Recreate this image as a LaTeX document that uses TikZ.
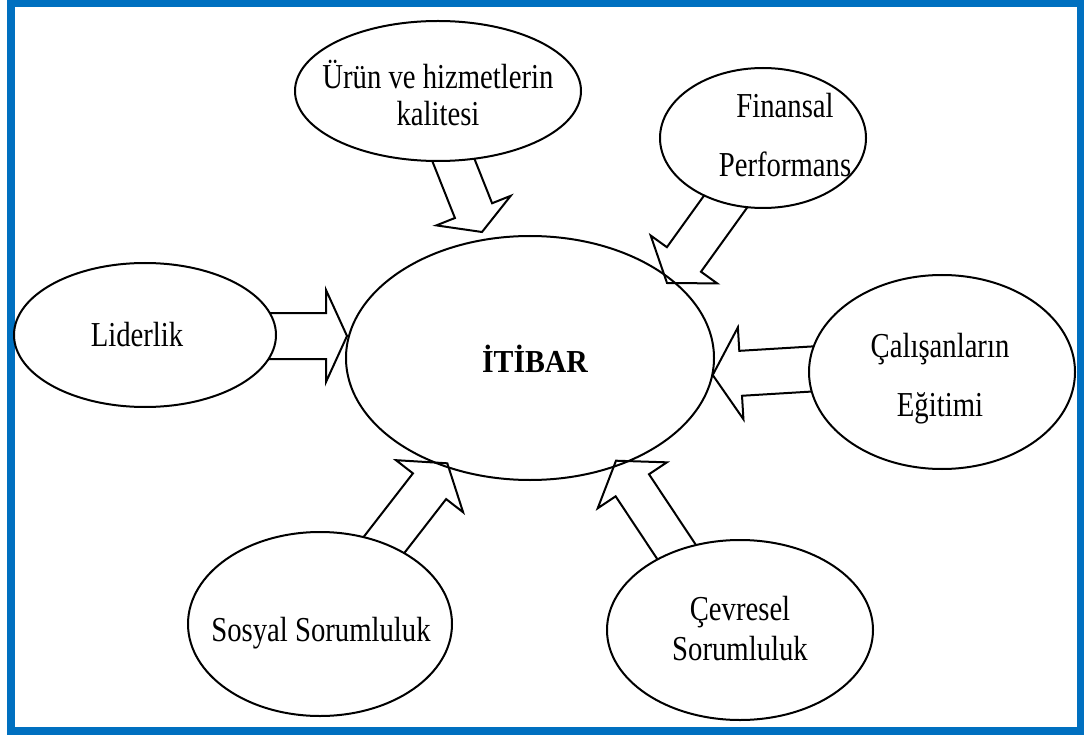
\documentclass[tikz,border=0pt]{standalone}
\usepackage{fontspec}
\usetikzlibrary{calc,shapes.geometric}
\newfontfamily\lblfont{Liberation Serif}[FakeStretch=0.82]
\newfontfamily\titlefont{Liberation Serif}[FakeStretch=0.93]
\definecolor{frameblue}{HTML}{0070C0}

\tikzset{
  bubble/.style={draw, ellipse, line width=2pt, fill=white, inner sep=0pt},
  core/.style={draw, ellipse, line width=2pt, inner sep=0pt},
  blockarr/.style={draw, line width=2pt, line join=miter},
  lbl/.style={font=\lblfont\fontsize{35pt}{40pt}\selectfont, inner sep=0pt, anchor=base},
  titlelbl/.style={font=\titlefont\bfseries\fontsize{32pt}{38pt}\selectfont, inner sep=0pt, anchor=base},
}

% hollow block arrow: start, tip, shaft half width, head half width, head length
\newcommand\blockarrow[5]{%
  \coordinate (ba-h) at ($(#2)!#5!(#1)$);
  \draw[blockarr] ($(#1)!#3!90:(#2)$) -- ($(ba-h)!#3!90:(#2)$)
    -- ($(ba-h)!#4!90:(#2)$) -- (#2) -- ($(ba-h)!#4!-90:(#2)$)
    -- ($(ba-h)!#3!-90:(#2)$) -- ($(#1)!#3!-90:(#2)$) -- cycle;}

\begin{document}
\begin{tikzpicture}[x=1pt, y=-1pt]
  \useasboundingbox (0,0) rectangle (1084,735);
  \draw[frameblue, line width=8pt] (11,3.5) rectangle (1080.5,731);

  % arrow end points
  \coordinate (q-s) at (449.3,149.7);  \coordinate (q-t) at (482,232);
  \coordinate (f-s) at (733.3,190.9);  \coordinate (f-t) at (667,283);
  \coordinate (l-s) at (255,336);      \coordinate (l-t) at (347,336);
  \coordinate (t-s) at (825,368.2);    \coordinate (t-t) at (712.7,375);
  \coordinate (s-s) at (377.2,553.7);  \coordinate (s-t) at (447.3,463.3);
  \coordinate (e-s) at (681.3,559.1);  \coordinate (e-t) at (616,460.7);

  \blockarrow{q-s}{q-t}{20pt}{40pt}{23pt}
  \blockarrow{f-s}{f-t}{21pt}{41pt}{29pt}
  \blockarrow{l-s}{l-t}{23pt}{46pt}{21pt}
  \blockarrow{t-s}{t-t}{22.5pt}{46pt}{28pt}
  \blockarrow{s-s}{s-t}{21pt}{42.5pt}{29pt}
  \blockarrow{e-s}{e-t}{20pt}{41.5pt}{29.5pt}

  % surrounding factors
  \node[bubble, minimum width=286pt, minimum height=140pt] (quality) at (438,91) {};
  \node[bubble, minimum width=206pt, minimum height=140pt] (finance) at (763,138) {};
  \node[bubble, minimum width=262pt, minimum height=144pt] (leadership) at (145,335) {};
  \node[bubble, minimum width=266pt, minimum height=194pt] (training) at (942,372) {};
  \node[bubble, minimum width=264pt, minimum height=184pt] (social) at (320,624) {};
  \node[bubble, minimum width=266pt, minimum height=180pt] (environment) at (740,630) {};

  % centre
  \node[core, minimum width=368pt, minimum height=244pt] (reputation) at (530,358) {};

  % labels
  \node[lbl] (quality-a) at (438,89) {Ürün ve hizmetlerin};
  \node[lbl] (quality-b) at (438,126) {kalitesi};
  \node[lbl] (finance-a) at (785,118) {Finansal};
  \node[lbl] (finance-b) at (785,177) {Performans};
  \node[lbl] (leadership-a) at (137,346) {Liderlik};
  \node[lbl] (training-a) at (940,357) {Çalışanların};
  \node[lbl] (training-b) at (940,416) {Eğitimi};
  \node[lbl] (social-a) at (321,641) {Sosyal Sorumluluk};
  \node[lbl] (environment-a) at (740,620) {Çevresel};
  \node[lbl] (environment-b) at (740,660) {Sorumluluk};
  \node[titlelbl] (reputation-a) at (535,372) {İTİBAR};
\end{tikzpicture}
\end{document}
